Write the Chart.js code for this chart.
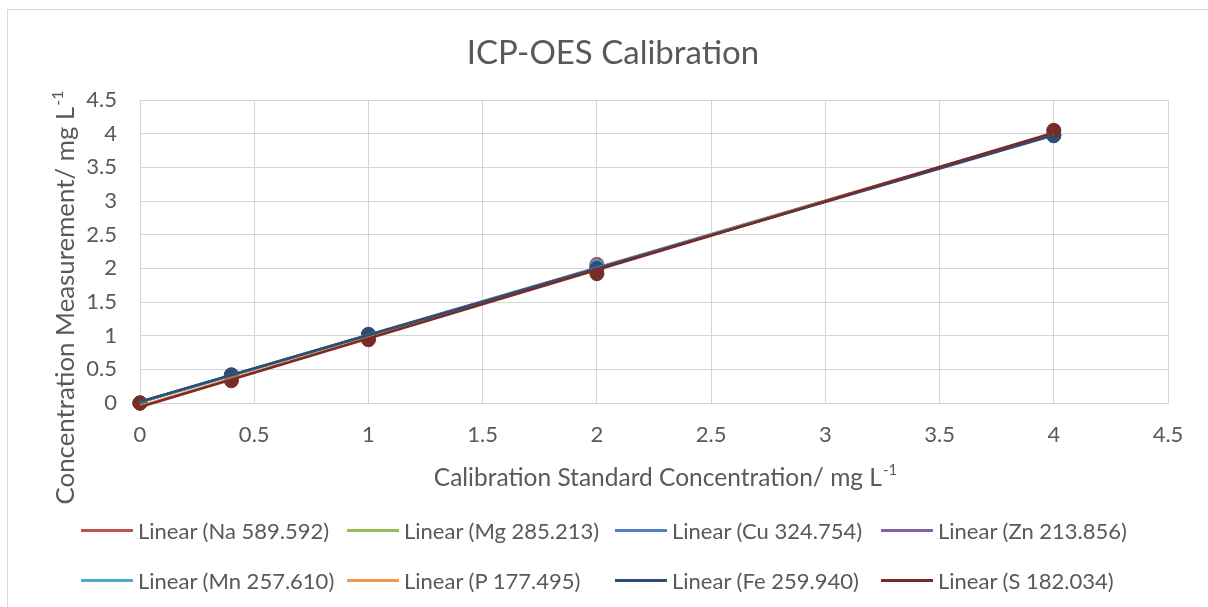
<!DOCTYPE html>
<html>
<head>
<meta charset="utf-8">
<script src="https://cdn.jsdelivr.net/npm/chart.js@4.4.0/dist/chart.umd.min.js"></script>
<style>
  html, body { margin: 0; padding: 0; background: #fff; overflow: hidden; }
  #wrap { position: relative; width: 1208px; height: 607px; overflow: hidden; }
  #frame { position: absolute; left: 7px; top: 9px; width: 1300px; height: 700px; border: 1px solid #d9d9d9; box-sizing: border-box; }
  #chart { position: absolute; left: 0; top: 0; }
  #legend { position: absolute; left: 81px; top: 513px; display: grid;
            grid-template-columns: 266px 268px 266px auto; row-gap: 16px;
            font: 22px Lato, sans-serif; color: #595959; }
  #legend .item { display: flex; align-items: center; height: 34px; white-space: nowrap; }
  #legend .swatch { width: 52px; height: 3px; margin-right: 5px; }
</style>
</head>
<body>
<div id="wrap">
  <div id="frame"></div>
  <canvas id="chart" width="1208" height="607"></canvas>
  <div id="legend"></div>
</div>
<script>
// calibration standards (mg/L)
const standards = [0, 0.4, 1, 2, 4];

// measured concentrations per emission line
const naValues = [0.00, 0.41, 1.01, 2.06, 3.98];
const mgValues = [0.00, 0.41, 1.01, 2.02, 3.98];
const cuValues = [0.00, 0.41, 1.01, 2.04, 3.97];
const znValues = [0.00, 0.41, 1.01, 2.02, 3.98];
const mnValues = [0.00, 0.41, 1.01, 2.02, 3.98];
const pValues  = [0.00, 0.35, 0.95, 1.95, 4.03];
const feValues = [0.00, 0.42, 1.02, 2.00, 3.97];
const sValues  = [0.00, 0.33, 0.94, 1.92, 4.05];

const seriesNames = ['Na 589.592', 'Mg 285.213', 'Cu 324.754', 'Zn 213.856',
                     'Mn 257.610', 'P 177.495', 'Fe 259.940', 'S 182.034'];
const seriesValues = [naValues, mgValues, cuValues, znValues, mnValues, pValues, feValues, sValues];
const seriesColors = ['#C0504D', '#9BBB59', '#4F81BD', '#8064A2',
                      '#4BACC6', '#F79646', '#2C4D75', '#772C2A'];

const axisTicks = [0, 0.5, 1, 1.5, 2, 2.5, 3, 3.5, 4, 4.5];
const chartTitle = 'ICP-OES Calibration';
const xTitle = 'Calibration Standard Concentration/ mg L';
const yTitle = 'Concentration Measurement/ mg L';
const unitSup = '-1';

const textColor = '#595959';
const gridColor = '#d4d4d4';

// least squares line, like Excel's linear trendline
function linearFit(xs, ys) {
  const n = xs.length;
  const mx = xs.reduce((a, b) => a + b, 0) / n;
  const my = ys.reduce((a, b) => a + b, 0) / n;
  let sxy = 0, sxx = 0;
  for (let i = 0; i < n; i++) {
    sxy += (xs[i] - mx) * (ys[i] - my);
    sxx += (xs[i] - mx) * (xs[i] - mx);
  }
  const slope = sxy / sxx;
  const icpt = my - slope * mx;
  const x0 = Math.min(...xs), x1 = Math.max(...xs);
  return [{ x: x0, y: icpt + slope * x0 }, { x: x1, y: icpt + slope * x1 }];
}

const n = seriesNames.length;
const markerSets = seriesValues.map((vals, i) => ({
  label: seriesNames[i],
  data: standards.map((x, j) => ({ x: x, y: vals[j] })),
  backgroundColor: seriesColors[i],
  borderColor: seriesColors[i],
  borderWidth: 1,
  pointRadius: 7,
  pointHoverRadius: 7,
  showLine: false,
  clip: false,
  order: 20 + (n - 1 - i),
  isTrend: false
}));
const trendSets = seriesValues.map((vals, i) => ({
  label: 'Linear (' + seriesNames[i] + ')',
  data: linearFit(standards, vals),
  borderColor: seriesColors[i],
  backgroundColor: seriesColors[i],
  borderWidth: 2.5,
  pointRadius: 0,
  showLine: true,
  fill: false,
  clip: false,
  order: n - 1 - i,
  isTrend: true
}));

function drawWithSup(ctx, main, sup, cx, cy, size) {
  const supSize = Math.round(size * 0.62);
  ctx.font = size + 'px Lato';
  const w1 = ctx.measureText(main).width;
  ctx.font = supSize + 'px Lato';
  const w2 = ctx.measureText(sup).width;
  const x = cx - (w1 + w2) / 2;
  ctx.textAlign = 'left';
  ctx.textBaseline = 'middle';
  ctx.font = size + 'px Lato';
  ctx.fillText(main, x, cy);
  ctx.font = supSize + 'px Lato';
  ctx.fillText(sup, x + w1 + 1, cy - size * 0.33);
}

const titlesPlugin = {
  id: 'titles',
  afterDraw(chart) {
    const ctx = chart.ctx;
    ctx.save();
    ctx.fillStyle = textColor;
    ctx.font = '33px Lato';
    ctx.textAlign = 'center';
    ctx.textBaseline = 'middle';
    ctx.fillText(chartTitle, 613, 53);
    drawWithSup(ctx, xTitle, unitSup, 665, 478, 24.5);
    ctx.translate(66, 298);
    ctx.rotate(-Math.PI / 2);
    drawWithSup(ctx, yTitle, unitSup, 0, 0, 25.8);
    ctx.restore();
  }
};

const htmlLegendPlugin = {
  id: 'htmlLegend',
  afterUpdate(chart) {
    const box = document.getElementById('legend');
    box.innerHTML = '';
    chart.data.datasets.filter(d => d.isTrend).forEach(d => {
      const item = document.createElement('div');
      item.className = 'item';
      const sw = document.createElement('span');
      sw.className = 'swatch';
      sw.style.background = d.borderColor;
      const txt = document.createElement('span');
      txt.textContent = d.label;
      item.appendChild(sw);
      item.appendChild(txt);
      box.appendChild(item);
    });
  }
};

function tickOpts() {
  return {
    stepSize: 0.5,
    color: textColor,
    font: { family: 'Lato', size: 22 },
    callback: v => String(Number(v))
  };
}

document.fonts.load('22px Lato').then(() => {
  new Chart(document.getElementById('chart'), {
    type: 'scatter',
    data: { datasets: markerSets.concat(trendSets) },
    options: {
      responsive: false,
      animation: false,
      layout: { padding: { left: 0, right: 40, top: 100, bottom: 164 } },
      plugins: {
        legend: { display: false },
        tooltip: { enabled: false },
        title: { display: false }
      },
      scales: {
        x: {
          type: 'linear',
          min: axisTicks[0],
          max: axisTicks[axisTicks.length - 1],
          ticks: Object.assign(tickOpts(), { padding: 19 }),
          grid: { color: gridColor, drawTicks: false },
          border: { color: gridColor },
          afterFit(scale) { scale.height = 40; }
        },
        y: {
          type: 'linear',
          min: axisTicks[0],
          max: axisTicks[axisTicks.length - 1],
          ticks: Object.assign(tickOpts(), { padding: 23 }),
          grid: { color: gridColor, drawTicks: false },
          border: { color: gridColor },
          afterFit(scale) { scale.width = 140; }
        }
      }
    },
    plugins: [titlesPlugin, htmlLegendPlugin]
  });
});
</script>
</body>
</html>
